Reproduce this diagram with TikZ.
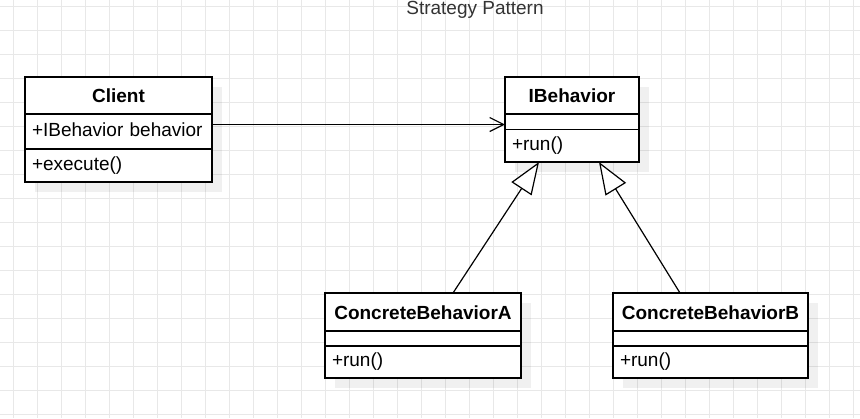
\documentclass[tikz,border=0pt]{standalone}
\usepackage{fontspec}
\setmainfont{Liberation Sans}
\usetikzlibrary{positioning,calc,arrows.meta,backgrounds}

\definecolor{gridgray}{HTML}{E8E8E8}
\definecolor{titlegray}{HTML}{333333}

\tikzset{
  umlfont/.style={font=\fontsize{19pt}{23pt}\selectfont},
  umlbox/.style={draw=black, fill=white, line width=1.4pt, outer sep=0pt},
  umlhead/.style={umlbox, font=\fontsize{19pt}{23pt}\selectfont\bfseries,
    inner sep=0pt, text height=14pt, text depth=0pt, minimum height=37pt},
  umlrow/.style={umlbox, umlfont, align=left, inner xsep=7pt, inner ysep=0pt,
    text width=#1-14pt, text height=14pt, text depth=4.5pt},
  umlempty/.style={umlbox, inner sep=0pt, minimum width=#1, minimum height=15.5pt},
  gridline/.style={gridgray, line width=1pt},
  shadowfill/.style={fill=black, opacity=0.06},
  titletext/.style={umlfont, text=titlegray, inner sep=0pt},
  assoc/.style={line width=1.2pt, -{Straight Barb[length=14pt, width=14pt]}},
  inherit/.style={line width=1.2pt, -{Triangle[fill=white, length=32pt, width=24pt]}}
}

\begin{document}
\begin{tikzpicture}[x=1pt, y=-1pt]
  \useasboundingbox (0,0) rectangle (860,418);
  \begin{scope}[on background layer]
    \fill[white] (0,0) rectangle (860,418);
    \foreach \gx in {13,37,...,853}
      \draw[gridline] (\gx,0) -- (\gx,418);
    \foreach \gy in {6,30,...,414}
      \draw[gridline] (0,\gy) -- (860,\gy);
  \end{scope}

  \node[titletext] (title) at (475,10) {Strategy Pattern};

  % Client
  \node[umlhead, minimum width=187pt, anchor=north west] (client) at (25,77) {Client};
  \node[umlrow=187pt, minimum height=35pt, below=0pt of client] (clientattr) {+IBehavior behavior};
  \node[umlrow=187pt, minimum height=33pt, below=0pt of clientattr] (clientop) {+execute()};

  % IBehavior
  \node[umlhead, minimum width=134pt, anchor=north west] (ibeh) at (505,77) {IBehavior};
  \node[umlempty=134pt, below=0pt of ibeh] (ibehattr) {};
  \node[umlrow=134pt, minimum height=32.5pt, below=0pt of ibehattr] (ibehop) {+run()};

  % ConcreteBehaviorA
  \node[umlhead, minimum width=196pt, minimum height=38pt, anchor=north west] (concA) at (325,293) {ConcreteBehaviorA};
  \node[umlempty=196pt, minimum height=15pt, below=0pt of concA] (concAattr) {};
  \node[umlrow=196pt, minimum height=32pt, below=0pt of concAattr] (concAop) {+run()};

  % ConcreteBehaviorB
  \node[umlhead, minimum width=195pt, minimum height=38pt, anchor=north west] (concB) at (613,293) {ConcreteBehaviorB};
  \node[umlempty=195pt, minimum height=15pt, below=0pt of concB] (concBattr) {};
  \node[umlrow=195pt, minimum height=32pt, below=0pt of concBattr] (concBop) {+run()};

  % shadows
  \begin{scope}[on background layer]
    \fill[shadowfill] ($(client.north west)+(10,10)$) rectangle ($(clientop.south east)+(10,10)$);
    \fill[shadowfill] ($(ibeh.north west)+(10,10)$) rectangle ($(ibehop.south east)+(10,10)$);
    \fill[shadowfill] ($(concA.north west)+(10,10)$) rectangle ($(concAop.south east)+(10,10)$);
    \fill[shadowfill] ($(concB.north west)+(10,10)$) rectangle ($(concBop.south east)+(10,10)$);
  \end{scope}

  \draw[assoc] ([yshift=7pt]clientattr.east) -- ([yshift=7pt]clientattr.east -| ibehattr.west);
  \draw[inherit] ([xshift=30pt]concA.north) -- ([xshift=-33pt]ibehop.south);
  \draw[inherit] ([xshift=-30.5pt]concB.north) -- ([xshift=27pt]ibehop.south);
\end{tikzpicture}
\end{document}
